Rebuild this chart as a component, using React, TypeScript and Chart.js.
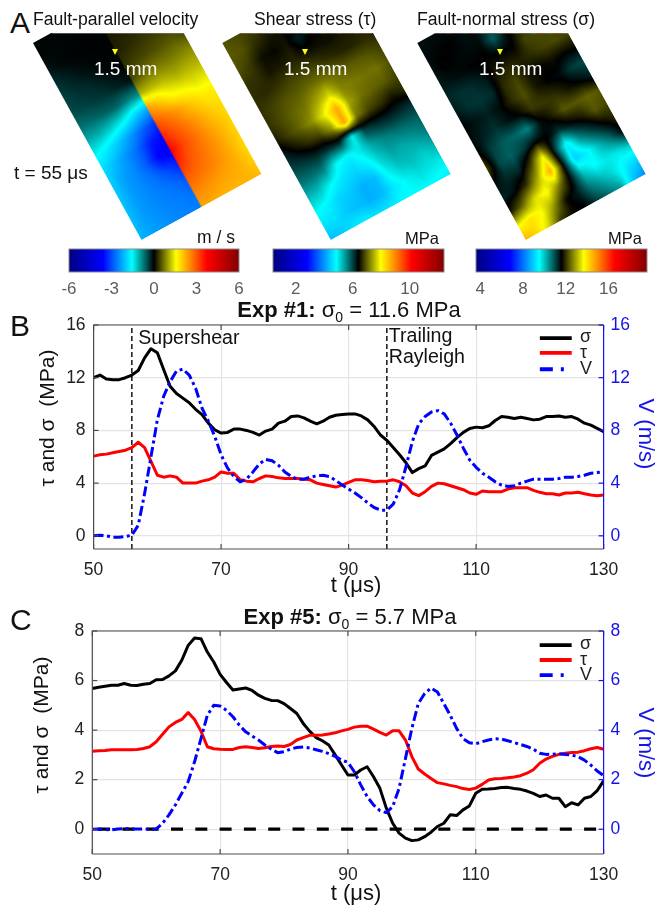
import React, { useEffect, useRef } from "react";
import { Chart, registerables } from "chart.js";

Chart.register(...registerables);

const FONT = '"Liberation Sans", Arial, sans-serif';

/* ---------- colour map (position on bar, r, g, b) ---------- */
const cmapStops: number[][] = [
  [0, 0, 0, 130],
  [0.2, 0, 0, 255],
  [0.37, 0, 255, 255],
  [0.5, 0, 0, 0],
  [0.63, 255, 255, 0],
  [0.81, 255, 0, 0],
  [1, 130, 0, 0],
];

/* ---------- panel A fields: rows run along the fault, columns across it ---------- */
const alongFault = [0, 1, 2, 3, 4, 5, 6, 7, 8, 9, 10, 11, 12, 13, 14];
const acrossSplit = [0, 1, 2, 3, 4, 5, 5, 6, 7, 8, 9, 10];
const acrossPlain = [0, 1, 2, 3, 4, 5, 6, 7, 8, 9, 10];

// m/s
const velocityField: number[][] = [
  [-0.03, -0.03, -0.03, -0.02, -0.02, -0.02, 0.05, 0.05, 0.08, 0.1, 0.15, 0.2],
  [-0.03, -0.03, -0.03, -0.02, -0.02, -0.02, 0.08, 0.1, 0.12, 0.15, 0.2, 0.25],
  [-0.15, -0.05, -0.02, -0.02, -0.02, -0.02, 0.15, 0.2, 0.22, 0.25, 0.3, 0.35],
  [-0.3, -0.2, -0.1, -0.03, -0.02, -0.02, 0.2, 0.25, 0.3, 0.35, 0.35, 0.4],
  [-0.4, -0.3, -0.25, -0.15, -0.05, -0.02, 0.3, 0.4, 0.45, 0.5, 0.55, 0.45],
  [-0.45, -0.4, -0.35, -0.3, -0.2, -0.1, 0.45, 0.65, 0.75, 0.75, 0.8, 0.85],
  [-0.7, -0.65, -0.6, -0.6, -0.8, -0.9, 1.1, 1.15, 1.15, 1.05, 1.1, 1.1],
  [-1.05, -1.1, -1.25, -1.5, -1.9, -2.2, 2.4, 2.0, 1.6, 1.5, 1.4, 1.45],
  [-1.5, -1.7, -2.0, -2.4, -2.8, -3.2, 3.0, 2.7, 2.35, 2.0, 1.75, 1.7],
  [-1.8, -2.1, -2.45, -2.8, -3.4, -3.6, 3.4, 3.0, 2.65, 2.3, 2.0, 1.85],
  [-1.95, -2.3, -2.5, -2.9, -3.6, -3.7, 3.75, 3.15, 2.8, 2.45, 2.15, 1.9],
  [-2.0, -2.35, -2.5, -2.7, -3.0, -3.3, 3.4, 3.0, 2.75, 2.5, 2.2, 1.9],
  [-2.05, -2.35, -2.5, -2.6, -2.7, -2.9, 2.95, 2.8, 2.65, 2.45, 2.2, 1.85],
  [-2.1, -2.35, -2.45, -2.55, -2.6, -2.7, 2.6, 2.5, 2.4, 2.3, 2.2, 1.95],
  [-2.15, -2.3, -2.4, -2.5, -2.55, -2.6, 2.3, 2.3, 2.2, 2.2, 2.2, 2.15],
];

// MPa, relative to the colour bar's centre
const shearField: number[][] = [
  [0.5, 0.45, 0.4, 0.3, 0.25, 0.1, 0, 0.1, 0.15, 0.15, 0.15],
  [0.55, 0.5, 0.3, 0.15, 0.08, 0, 0, 0.05, 0.08, 0.15, 0.15],
  [0.5, 0.35, 0.08, 0.03, 0.12, -0.2, 0, 0.08, 0.12, 0.15, 0.15],
  [0.3, 0.28, 0.12, 0.15, 0.2, 0.08, 0.08, 0.08, 0.15, 0.15, 0.15],
  [0.28, 0.24, 0.3, 0.4, 0.4, 0.4, 0.28, 0.22, 0.2, 0.25, 0.25],
  [0.3, 0.4, 0.5, 0.55, 0.65, 0.7, 0.65, 0.55, 0.55, 0.5, 0.4],
  [0.3, 0.45, 0.6, 0.72, 1.0, 1.3, 0.8, 0.75, 0.7, 0.7, 0.5],
  [0.15, 0.4, 0.62, 0.9, 1.5, 2.3, 1.0, 0.7, 0.6, 0.55, 0.4],
  [-0.2, 0.08, 0.28, 0.4, 0.9, 2.4, 0.75, 0.42, 0.3, 0.12, 0.25],
  [-0.4, -0.35, -0.25, -0.3, -0.3, -1.5, -0.4, -0.25, -0.2, -0.25, -0.3],
  [-0.7, -0.7, -0.8, -1.5, -1.7, -1.4, -1.0, -0.8, -0.7, -0.65, -0.6],
  [-1.1, -1.2, -1.55, -1.8, -1.9, -1.7, -1.25, -1.0, -1.05, -0.95, -0.8],
  [-1.5, -1.65, -1.9, -2.0, -2.2, -2.1, -1.5, -1.2, -1.15, -1.25, -1.1],
  [-1.8, -1.8, -2.0, -2.1, -2.2, -2.1, -1.7, -1.5, -1.35, -1.4, -1.45],
  [-2.1, -2.0, -1.75, -1.65, -1.8, -1.75, -1.6, -1.55, -1.55, -1.6, -1.7],
];

// MPa, relative to the colour bar's centre
const normalField: number[][] = [
  [-0.1, -0.1, -0.1, -0.1, -0.1, -0.4, 0, 0.25, 0.4, 0.4, 0.4],
  [-0.1, -0.05, 0, -0.1, -0.1, -0.3, -0.2, 0.15, 0.4, 0.45, 0.45],
  [-0.12, 0.04, -0.05, -0.08, -0.08, -0.8, -0.1, 0.25, 0.45, 0.45, 0.45],
  [-0.2, -0.12, -0.05, 0, 0.03, 0, 0, 0.55, 0.6, 0.55, 0.45],
  [-0.3, -0.4, -0.35, -0.2, 0.2, 0.3, 0.25, 0.4, 0.55, 0.6, 0.55],
  [-0.2, -0.4, -0.45, -0.35, 0.35, 0.55, 0.15, 0.03, 0.1, 0, 0.03],
  [-0.04, -0.15, -0.25, -0.08, 0.35, 0.65, 0.2, 0, -0.08, -0.5, -0.6],
  [-0.08, -0.25, -0.4, -0.15, 0, 0.45, 0.45, 0.4, 0.15, 0, -0.25],
  [0.08, -0.5, -0.75, -0.85, -1.1, -0.15, 0.22, 0.7, 0.7, 0.8, 0.7],
  [0.55, -0.6, -0.8, -0.5, 0, 0, -0.4, -0.08, 0.22, 0.7, 0.55],
  [-0.08, -0.35, -0.35, 0.5, 2.1, -0.4, -2.3, -1.1, -0.55, -0.08, 0.3],
  [-0.3, -0.12, 0.4, 1.5, 3.0, 0, -2.6, -2.2, -1.5, -0.9, -0.08],
  [0.15, 0.8, 1.8, 2.2, 1.1, -0.08, -1.6, -2.1, -1.9, -1.9, -1.7],
  [2.0, 2.4, 2.1, 1.2, 0.08, -0.25, -1.0, -1.4, -1.8, -2.3, -2.6],
  [3.0, 2.5, 1.7, 0.4, 0.08, 0, -0.5, -0.9, -1.3, -2.7, -3.4],
];

/* ---------- panels B and C ---------- */
const times = [
  50, 51, 52, 53, 54, 55, 56, 57, 58, 59, 60, 61, 62, 63, 64, 65, 66, 67, 68, 69, 70, 71, 72, 73, 74, 75, 76, 77, 78, 79, 80,
  81, 82, 83, 84, 85, 86, 87, 88, 89, 90, 91, 92, 93, 94, 95, 96, 97, 98, 99, 100, 101, 102, 103, 104, 105, 106, 107, 108, 109, 110,
  111, 112, 113, 114, 115, 116, 117, 118, 119, 120, 121, 122, 123, 124, 125, 126, 127, 128, 129, 130,
];

const sigmaB = [
  12.0, 12.2, 11.9, 11.85, 11.85, 12.0, 12.2, 12.55, 13.5, 14.2, 13.9, 12.6, 11.35, 10.8, 10.45, 10.1, 9.6, 9.2, 8.55, 8.05, 7.8,
  7.85, 8.1, 8.1, 8.0, 7.85, 7.65, 7.95, 8.1, 8.55, 8.7, 9.05, 9.1, 8.95, 8.7, 8.5, 8.7, 9.0, 9.15, 9.2, 9.25,
  9.25, 9.1, 8.8, 8.3, 7.65, 7.25, 6.7, 6.15, 5.55, 4.8, 5.1, 5.3, 6.1, 6.35, 6.6, 7.0, 7.45, 7.85, 8.15, 8.25,
  8.2, 8.35, 8.75, 9.05, 9.0, 8.9, 9.0, 8.9, 8.8, 8.85, 9.05, 9.05, 9.1, 9.0, 9.05, 8.85, 8.55, 8.4, 8.15, 7.9,
];
const tauB = [
  6.05, 6.15, 6.2, 6.3, 6.4, 6.5, 6.7, 7.1, 6.7, 5.65, 4.6, 4.45, 4.55, 4.45, 4.0, 4.0, 4.0, 4.15, 4.25, 4.45, 4.85,
  4.75, 4.75, 4.25, 4.15, 4.1, 4.35, 4.55, 4.5, 4.4, 4.35, 4.35, 4.35, 4.3, 4.25, 4.0, 3.9, 3.8, 3.7, 3.85, 4.05,
  4.25, 4.25, 4.2, 4.1, 4.15, 4.15, 4.25, 4.1, 3.8, 3.25, 3.05, 3.35, 3.75, 4.0, 3.95, 3.8, 3.65, 3.5, 3.25, 3.15,
  3.4, 3.35, 3.35, 3.35, 3.55, 3.65, 3.65, 3.65, 3.45, 3.3, 3.2, 3.2, 3.1, 3.25, 3.25, 3.3, 3.2, 3.1, 3.05, 3.1,
];
const velocityB = [
  0, 0.05, 0, -0.1, -0.1, -0.05, 0.05, 0.8, 3.2, 6.0, 8.8, 10.6, 11.7, 12.5, 12.65, 12.2, 11.2, 9.7, 8.7, 7.55, 6.15,
  5.15, 4.5, 4.1, 4.3, 4.85, 5.45, 5.8, 5.7, 5.35, 4.85, 4.5, 4.3, 4.3, 4.45, 4.55, 4.6, 4.5, 4.2, 3.85, 3.55,
  3.25, 2.9, 2.5, 2.15, 1.95, 1.95, 2.4, 3.5, 5.25, 7.15, 8.5, 9.05, 9.4, 9.5, 9.25, 8.55, 7.65, 6.65, 5.75, 5.2,
  4.75, 4.45, 4.1, 3.85, 3.75, 3.8, 4.0, 4.15, 4.3, 4.3, 4.3, 4.3, 4.35, 4.45, 4.45, 4.5, 4.6, 4.75, 4.8, 4.85,
];
const sigmaC = [
  5.68, 5.73, 5.77, 5.81, 5.81, 5.88, 5.81, 5.8, 5.85, 5.88, 6.03, 6.04, 6.19, 6.39, 6.82, 7.42, 7.72, 7.69, 7.15, 6.75, 6.25,
  5.92, 5.62, 5.66, 5.7, 5.6, 5.41, 5.28, 5.2, 5.19, 5.07, 4.87, 4.67, 4.27, 3.96, 3.7, 3.57, 3.4, 3.0, 2.59, 2.19,
  2.19, 2.39, 2.52, 2.12, 1.65, 0.85, 0.24, -0.16, -0.36, -0.46, -0.43, -0.3, -0.12, 0.11, 0.24, 0.58, 0.55, 0.78, 0.94, 1.45,
  1.61, 1.62, 1.64, 1.68, 1.69, 1.64, 1.61, 1.54, 1.45, 1.32, 1.38, 1.25, 1.25, 0.91, 1.07, 0.98, 1.25, 1.32, 1.56, 1.95,
];
const tauC = [
  3.15, 3.17, 3.18, 3.21, 3.21, 3.21, 3.21, 3.22, 3.26, 3.33, 3.53, 3.83, 4.13, 4.31, 4.43, 4.71, 4.43, 3.96, 3.33, 3.25, 3.23,
  3.22, 3.22, 3.3, 3.33, 3.3, 3.26, 3.29, 3.34, 3.36, 3.34, 3.42, 3.6, 3.7, 3.79, 3.79, 3.8, 3.84, 3.89, 3.97, 4.03,
  4.12, 4.16, 4.16, 4.04, 3.91, 3.8, 3.97, 3.97, 3.6, 2.93, 2.43, 2.23, 2.05, 1.88, 1.83, 1.77, 1.72, 1.64, 1.6, 1.66,
  1.81, 1.99, 2.04, 2.05, 2.08, 2.11, 2.16, 2.26, 2.4, 2.66, 2.83, 2.94, 3.02, 3.07, 3.1, 3.11, 3.17, 3.25, 3.3, 3.23,
];
const velocityC = [
  0, 0.01, -0.01, -0.03, 0.01, 0.03, 0.01, 0.01, 0.01, 0, 0.01, 0.24, 0.58, 0.98, 1.45, 1.92, 2.72, 3.66, 4.6, 5.0, 4.97,
  4.8, 4.54, 4.2, 3.93, 3.76, 3.6, 3.4, 3.23, 3.09, 3.13, 3.23, 3.3, 3.32, 3.28, 3.21, 3.14, 3.05, 2.94, 2.79, 2.7,
  2.32, 1.79, 1.32, 0.98, 0.75, 0.67, 0.91, 1.65, 2.86, 4.07, 5.07, 5.48, 5.7, 5.54, 5.07, 4.6, 4.07, 3.66, 3.49, 3.45,
  3.53, 3.6, 3.65, 3.64, 3.57, 3.5, 3.42, 3.34, 3.23, 3.07, 3.02, 3.03, 3.05, 3.02, 2.99, 2.93, 2.79, 2.59, 2.35, 2.16,
];

const xTicks = [50, 70, 90, 110, 130];
const yTicksB = [0, 4, 8, 12, 16];
const yTicksC = [0, 2, 4, 6, 8];
const guideTimesB = [56, 96];

const ticksVelocityBar = [-6, -3, 0, 3, 6];
const ticksShearBar = [2, 6, 10];
const ticksNormalBar = [4, 8, 12, 16];

/* ---------- helpers ---------- */
function colourAt(t: number): number[] {
  const c = Math.max(0, Math.min(1, t));
  for (let i = 1; i < cmapStops.length; i++) {
    const a = cmapStops[i - 1];
    const b = cmapStops[i];
    if (c <= b[0]) {
      const f = (c - a[0]) / (b[0] - a[0]);
      return [a[1] + (b[1] - a[1]) * f, a[2] + (b[2] - a[2]) * f, a[3] + (b[3] - a[3]) * f];
    }
  }
  return cmapStops[cmapStops.length - 1].slice(1);
}

function HeatPlate(props: { x: number; y: number; field: number[][]; cols: number[]; halfRange: number }) {
  const ref = useRef<HTMLCanvasElement>(null);
  const W = 140;
  const H = 226;
  useEffect(() => {
    const { field, cols, halfRange } = props;
    const nodes: any[] = [];
    field.forEach((row, i) => row.forEach((v, j) => nodes.push({ x: cols[j], y: alongFault[i], v })));
    const heatPlugin = {
      id: "heat",
      beforeDatasetsDraw(chart: any) {
        const xs = chart.scales.x;
        const ys = chart.scales.y;
        const ctx = chart.ctx;
        const w = chart.width;
        const h = chart.height;
        const img = ctx.createImageData(w, h);
        for (let py = 0; py < h; py++) {
          const fy = Math.max(0, Math.min(alongFault.length - 1.0001, ys.getValueForPixel(py + 0.5)));
          const r0 = Math.floor(fy);
          const ry = fy - r0;
          for (let px = 0; px < w; px++) {
            const u = xs.getValueForPixel(px + 0.5);
            let c = 0;
            while (c < cols.length - 2 && u >= cols[c + 1]) c++;
            const span = cols[c + 1] - cols[c] || 1;
            const rx = Math.max(0, Math.min(1, (u - cols[c]) / span));
            const top = field[r0][c] * (1 - rx) + field[r0][c + 1] * rx;
            const bot = field[r0 + 1][c] * (1 - rx) + field[r0 + 1][c + 1] * rx;
            const val = top * (1 - ry) + bot * ry;
            const rgb = colourAt(0.5 + val / (2 * halfRange));
            const k = (py * w + px) * 4;
            img.data[k] = rgb[0];
            img.data[k + 1] = rgb[1];
            img.data[k + 2] = rgb[2];
            img.data[k + 3] = 255;
          }
        }
        ctx.putImageData(img, 0, 0);
      },
    };
    const chart = new Chart(ref.current as HTMLCanvasElement, {
      type: "scatter",
      data: { datasets: [{ data: nodes, pointRadius: 0 }] },
      options: {
        animation: false,
        responsive: false,
        devicePixelRatio: 1,
        layout: { padding: 0 },
        plugins: { legend: { display: false }, tooltip: { enabled: false } },
        scales: {
          x: { type: "linear", display: false, min: 0, max: 10 },
          y: { type: "linear", display: false, min: 0, max: 14, reverse: true },
        },
      } as any,
      plugins: [heatPlugin],
    } as any);
    return () => chart.destroy();
  }, []);
  return (
    <canvas
      ref={ref}
      width={W}
      height={H}
      style={{
        position: "absolute",
        left: 0,
        top: 0,
        width: W,
        height: H,
        transformOrigin: "0 0",
        transform: `matrix(${120 / W},${-66 / W},${108.5 / H},${197 / H},${props.x},${props.y})`,
      }}
    />
  );
}

function ColourBar(props: { left: number; width: number; min: number; max: number; ticks: number[] }) {
  const ref = useRef<HTMLCanvasElement>(null);
  const pad = 22;
  const cw = props.width + 2 * pad;
  useEffect(() => {
    const barPlugin = {
      id: "bar",
      beforeDatasetsDraw(chart: any) {
        const { ctx, chartArea: a, scales } = chart;
        const x0 = scales.x.getPixelForValue(props.min);
        const x1 = scales.x.getPixelForValue(props.max);
        const g = ctx.createLinearGradient(x0, 0, x1, 0);
        cmapStops.forEach((s) => g.addColorStop(s[0], `rgb(${s[1]},${s[2]},${s[3]})`));
        ctx.fillStyle = g;
        ctx.fillRect(x0, a.top, x1 - x0, a.bottom - a.top);
        ctx.strokeStyle = "#8a8a8a";
        ctx.lineWidth = 1;
        ctx.strokeRect(x0, a.top, x1 - x0, a.bottom - a.top);
      },
    };
    const chart = new Chart(ref.current as HTMLCanvasElement, {
      type: "scatter",
      data: { datasets: [{ data: props.ticks.map((t) => ({ x: t, y: 0 })), pointRadius: 0 }] },
      options: {
        animation: false,
        responsive: false,
        devicePixelRatio: 1,
        layout: { padding: { left: pad, right: pad, top: 4, bottom: 0 } },
        plugins: { legend: { display: false }, tooltip: { enabled: false } },
        scales: {
          x: {
            type: "linear",
            min: props.min,
            max: props.max,
            grid: { display: false, drawTicks: false },
            border: { display: false },
            afterBuildTicks: (s: any) => {
              s.ticks = props.ticks.map((value) => ({ value }));
            },
            afterFit: (s: any) => {
              s.height = 28;
            },
            ticks: {
              autoSkip: false,
              maxRotation: 0,
              padding: 7,
              color: "#5c5c5c",
              font: { family: FONT, size: 17 },
            },
          },
          y: { type: "linear", display: false, min: -1, max: 1 },
        },
      } as any,
      plugins: [barPlugin],
    } as any);
    return () => chart.destroy();
  }, []);
  return (
    <canvas
      ref={ref}
      width={cw}
      height={55}
      style={{ position: "absolute", left: props.left - pad, top: 245, width: cw, height: 55 }}
    />
  );
}

function LinePanel(props: {
  top: number;
  height: number;
  plotLeft: number;
  plotTop: number;
  plotBottom: number;
  sigma: number[];
  tau: number[];
  velocity: number[];
  yMax: number;
  yTicks: number[];
  guides: { x: number[]; y: number[]; dash: number[]; width: number; offset?: number }[];
  legendY: number[];
  notes: { text: string; x: number; y: number }[];
}) {
  const ref = useRef<HTMLCanvasElement>(null);
  useEffect(() => {
    const plotRight = 603.6;
    const toXY = (ys: number[]) => ys.map((y, i) => ({ x: times[i], y }));
    const panelPlugin = {
      id: "panel",
      afterDatasetsDraw(chart: any) {
        const { ctx, chartArea: a, scales } = chart;
        ctx.save();
        // frame
        ctx.lineWidth = 1.2;
        ctx.strokeStyle = "#4d4d4d";
        ctx.beginPath();
        ctx.moveTo(a.left, a.bottom);
        ctx.lineTo(a.left, a.top);
        ctx.lineTo(a.right, a.top);
        ctx.moveTo(a.left, a.bottom);
        ctx.lineTo(a.right, a.bottom);
        ctx.stroke();
        xTicks.forEach((t) => {
          const x = scales.x.getPixelForValue(t);
          ctx.beginPath();
          ctx.moveTo(x, a.bottom);
          ctx.lineTo(x, a.bottom - 5);
          ctx.moveTo(x, a.top);
          ctx.lineTo(x, a.top + 5);
          ctx.stroke();
        });
        props.yTicks.forEach((t) => {
          const y = scales.y.getPixelForValue(t);
          ctx.beginPath();
          ctx.moveTo(a.left, y);
          ctx.lineTo(a.left + 5, y);
          ctx.stroke();
        });
        ctx.strokeStyle = "#1414e6";
        ctx.beginPath();
        ctx.moveTo(a.right, a.top);
        ctx.lineTo(a.right, a.bottom);
        ctx.stroke();
        props.yTicks.forEach((t) => {
          const y = scales.y1.getPixelForValue(t);
          ctx.beginPath();
          ctx.moveTo(a.right, y);
          ctx.lineTo(a.right - 5, y);
          ctx.stroke();
        });
        // notes
        ctx.fillStyle = "#111";
        ctx.textBaseline = "middle";
        ctx.textAlign = "left";
        ctx.font = `19.6px ${FONT}`;
        props.notes.forEach((n) => {
          ctx.fillText(n.text, scales.x.getPixelForValue(n.x), scales.y.getPixelForValue(n.y));
        });
        // legend
        const legend = [
          { label: "\u03c3", color: "#000000", dash: [] as number[] },
          { label: "\u03c4", color: "#ff0000", dash: [] as number[] },
          { label: "V", color: "#0000ff", dash: [13, 8, 3, 8] },
        ];
        legend.forEach((l, i) => {
          const y = scales.y.getPixelForValue(props.legendY[i]);
          ctx.strokeStyle = l.color;
          ctx.lineWidth = 3.8;
          ctx.setLineDash(l.dash);
          ctx.beginPath();
          ctx.moveTo(scales.x.getPixelForValue(120), y);
          ctx.lineTo(scales.x.getPixelForValue(125), y);
          ctx.stroke();
          ctx.setLineDash([]);
          ctx.fillStyle = "#222";
          ctx.font = `18px ${FONT}`;
          ctx.fillText(l.label, scales.x.getPixelForValue(126.3), y + (i === 0 ? -1 : 0));
        });
        ctx.restore();
      },
    };
    const line = (data: any[], color: string, yAxisID: string, dash: number[] = []) => ({
      data,
      borderColor: color,
      borderWidth: 3,
      borderDash: dash,
      pointRadius: 0,
      tension: 0,
      yAxisID,
      borderJoinStyle: "round",
    });
    const chart = new Chart(ref.current as HTMLCanvasElement, {
      type: "line",
      data: {
        datasets: [
          line(toXY(props.velocity), "#0000ff", "y1", [10, 3.5, 3, 3.5]),
          line(toXY(props.tau), "#ff0000", "y"),
          line(toXY(props.sigma), "#000000", "y"),
          ...props.guides.map((g) => ({
            data: g.x.map((x, i) => ({ x, y: g.y[i] })),
            borderColor: "#000000",
            borderWidth: g.width,
            borderDash: g.dash,
            borderDashOffset: g.offset || 0,
            pointRadius: 0,
            yAxisID: "y",
          })),
        ],
      },
      options: {
        animation: false,
        responsive: false,
        devicePixelRatio: 1,
        layout: { padding: { top: props.plotTop - props.top, left: 0, right: 0, bottom: 0 } },
        plugins: { legend: { display: false }, tooltip: { enabled: false } },
        scales: {
          x: {
            type: "linear",
            min: 50,
            max: 130,
            grid: { color: "#e4e4e4", lineWidth: 1.2, drawTicks: false },
            border: { display: false },
            afterBuildTicks: (s: any) => {
              s.ticks = xTicks.map((value) => ({ value }));
            },
            afterFit: (s: any) => {
              s.height = props.top + props.height - props.plotBottom;
            },
            ticks: { autoSkip: false, maxRotation: 0, padding: 11, color: "#222", font: { family: FONT, size: 17.5 } },
          },
          y: {
            type: "linear",
            position: "left",
            min: -1,
            max: props.yMax,
            grid: { color: "#e4e4e4", lineWidth: 1.2, drawTicks: false },
            border: { display: false },
            afterBuildTicks: (s: any) => {
              s.ticks = props.yTicks.map((value) => ({ value }));
            },
            afterFit: (s: any) => {
              s.width = props.plotLeft;
            },
            ticks: { padding: 8, color: "#222", font: { family: FONT, size: 17.5 } },
          },
          y1: {
            type: "linear",
            position: "right",
            min: -1,
            max: props.yMax,
            grid: { display: false, drawTicks: false },
            border: { display: false },
            afterBuildTicks: (s: any) => {
              s.ticks = props.yTicks.map((value) => ({ value }));
            },
            afterFit: (s: any) => {
              s.width = 655 - plotRight;
            },
            ticks: { padding: 7, color: "#1414e6", font: { family: FONT, size: 17.5 } },
          },
        },
      } as any,
      plugins: [panelPlugin],
    } as any);
    return () => chart.destroy();
  }, []);
  return (
    <canvas
      ref={ref}
      width={655}
      height={props.height}
      style={{ position: "absolute", left: 0, top: props.top, width: 655, height: props.height }}
    />
  );
}

function Label(props: { x: number; y: number; size?: number; color?: string; align?: string; rotate?: number; children: any }) {
  const tx = props.align === "center" || props.rotate ? "-50%" : "0";
  return (
    <div
      style={{
        position: "absolute",
        left: props.x,
        top: props.y,
        whiteSpace: "pre",
        fontFamily: FONT,
        fontSize: props.size || 16,
        lineHeight: 1,
        color: props.color || "#111",
        transform: `translate(${tx},-50%)${props.rotate ? ` rotate(${props.rotate}deg)` : ""}`,
      }}
    >
      {props.children}
    </div>
  );
}

function Marker(props: { x: number }) {
  return (
    <div
      style={{
        position: "absolute",
        left: props.x - 3,
        top: 49,
        width: 0,
        height: 0,
        borderLeft: "3px solid transparent",
        borderRight: "3px solid transparent",
        borderTop: "6px solid #ffff00",
      }}
    />
  );
}

function TopEdge(props: { left: number; width: number; speck: boolean }) {
  return (
    <div
      style={{
        position: "absolute",
        left: props.left,
        top: 32.5,
        width: props.width,
        height: 1.5,
        opacity: 0.65,
        background: props.speck
          ? "repeating-linear-gradient(90deg,#7a6a60 0 5px,#c25a4a 5px 8px,#4a7a9a 8px 12px,#8a8a60 12px 17px)"
          : "#777",
      }}
    />
  );
}

export default function App() {
  return (
    <div
      style={{
        position: "absolute",
        left: 0,
        top: 0,
        width: 655,
        height: 905,
        overflow: "hidden",
        background: "#fff",
        filter: "blur(0.35px)",
      }}
    >
      <div style={{ position: "absolute", left: 0, top: 0, width: 655, height: 245, clipPath: "inset(33px 0 0 0)" }}>
        <HeatPlate x={33} y={43} field={velocityField} cols={acrossSplit} halfRange={6} />
        <HeatPlate x={222.3} y={43} field={shearField} cols={acrossPlain} halfRange={6} />
        <HeatPlate x={417.3} y={43} field={normalField} cols={acrossPlain} halfRange={8} />
      </div>
      <TopEdge left={52} width={132} speck={false} />
      <TopEdge left={240} width={132} speck={true} />
      <TopEdge left={434} width={134} speck={true} />
      <Marker x={115} />
      <Marker x={305} />
      <Marker x={500} />
      <Label x={94} y={68} size={19} color="#fff">1.5 mm</Label>
      <Label x={284} y={68} size={19} color="#fff">1.5 mm</Label>
      <Label x={479} y={68} size={19} color="#fff">1.5 mm</Label>

      <ColourBar left={69} width={170} min={-6} max={6} ticks={ticksVelocityBar} />
      <ColourBar left={273} width={171} min={0.4} max={12.4} ticks={ticksShearBar} />
      <ColourBar left={476} width={171} min={3.6} max={19.6} ticks={ticksNormalBar} />

      <Label x={10} y={23} size={30}>A</Label>
      <Label x={33} y={20} size={17.6}>Fault-parallel velocity</Label>
      <Label x={254} y={20} size={17.6}>Shear stress (&tau;)</Label>
      <Label x={417} y={20} size={17.6}>Fault-normal stress (&sigma;)</Label>
      <Label x={14} y={172} size={19}>t = 55 &mu;s</Label>
      <Label x={197} y={238} size={17.5}>m / s</Label>
      <Label x={405} y={238} size={16.5}>MPa</Label>
      <Label x={608} y={238} size={16.5}>MPa</Label>

      <LinePanel
        top={300}
        height={300}
        plotLeft={93.6}
        plotTop={325}
        plotBottom={549}
        sigma={sigmaB}
        tau={tauB}
        velocity={velocityB}
        yMax={16}
        yTicks={yTicksB}
        guides={guideTimesB.map((t) => ({ x: [t, t], y: [-1, 16], dash: [5, 3], width: 1.4 }))}
        legendY={[15.0, 13.88, 12.64]}
        notes={[
          { text: "Supershear", x: 57, y: 15 },
          { text: "Trailing", x: 96.3, y: 15.1 },
          { text: "Rayleigh", x: 96.3, y: 13.5 },
        ]}
      />
      <LinePanel
        top={603}
        height={302}
        plotLeft={92.3}
        plotTop={631}
        plotBottom={854}
        sigma={sigmaC}
        tau={tauC}
        velocity={velocityC}
        yMax={8}
        yTicks={yTicksC}
        guides={[{ x: [50, 129], y: [0, 0], dash: [12, 12.3], width: 3.2, offset: 18.5 }]}
        legendY={[7.43, 6.83, 6.22]}
        notes={[]}
      />

      <Label x={10} y={326} size={30}>B</Label>
      <Label x={10} y={620} size={30}>C</Label>
      <Label x={349} y={310} size={22} align="center">
        <b>Exp #1:</b> &sigma;<sub style={{ fontSize: 14, lineHeight: 0 }}>0</sub> = 11.6 MPa
      </Label>
      <Label x={350} y={617} size={22} align="center">
        <b>Exp #5:</b> &sigma;<sub style={{ fontSize: 14, lineHeight: 0 }}>0</sub> = 5.7 MPa
      </Label>
      <Label x={46} y={418} size={21} rotate={-90}>{"\u03c4 and \u03c3  (MPa)"}</Label>
      <Label x={40} y={725} size={21} rotate={-90}>{"\u03c4 and \u03c3  (MPa)"}</Label>
      <Label x={646} y={434} size={22} color="#1414e6" rotate={90}>V (m/s)</Label>
      <Label x={646} y={743} size={22} color="#1414e6" rotate={90}>V (m/s)</Label>
      <Label x={356} y={585} size={22} align="center">t (&mu;s)</Label>
      <Label x={356} y={893} size={22} align="center">t (&mu;s)</Label>
    </div>
  );
}
